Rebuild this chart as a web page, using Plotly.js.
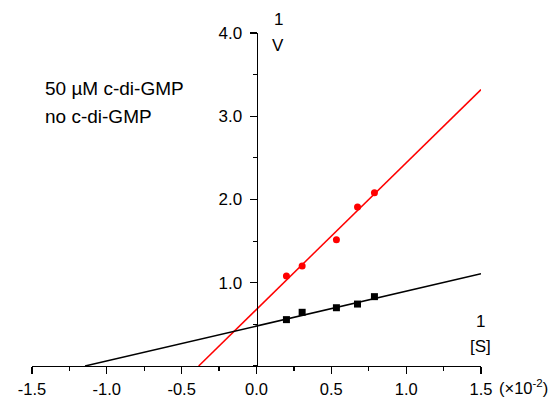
<!DOCTYPE html>
<html>
<head>
<meta charset="utf-8">
<script src="https://cdn.plot.ly/plotly-3.0.1.min.js"></script>
<style>html,body{margin:0;padding:0;background:#fff}#chart{width:554px;height:397px}</style>
</head>
<body>
<div id="chart"></div>
<script>
// Data (x in units of 1e-2)
const invS = [0.20, 0.305, 0.534, 0.675, 0.788];
const invV_cdiGMP = [1.08, 1.20, 1.517, 1.91, 2.08];
const invV_none = [0.557, 0.645, 0.70, 0.744, 0.833];
// Fitted line parameters
const fitSlope = [1.76, 0.419];
const fitIntercept = [0.68, 0.48];
const fitXmax = 1.5;
const xTickVals = [-1.5, -1.0, -0.5, 0.0, 0.5, 1.0, 1.5];
const xTickText = ["-1.5", "-1.0", "-0.5", "0.0", "0.5", "1.0", "1.5"];
const yTickVals = [1.0, 2.0, 3.0, 4.0];
const yTickText = ["1.0", "2.0", "3.0", "4.0"];
const seriesNames = ["50 µM c-di-GMP", "no c-di-GMP"];

function fitLine(i) {
  const x0 = -fitIntercept[i] / fitSlope[i];
  return {x: [x0, fitXmax], y: [0, fitIntercept[i] + fitSlope[i] * fitXmax]};
}
const redFit = fitLine(0), blackFit = fitLine(1);
const font = "Liberation Sans, Arial, sans-serif";

const traces = [
  {x: redFit.x, y: redFit.y, mode: 'lines', line: {color: '#ff0000', width: 1.5}, showlegend: false, hoverinfo: 'skip'},
  {x: blackFit.x, y: blackFit.y, mode: 'lines', line: {color: '#000000', width: 1.5}, showlegend: false, hoverinfo: 'skip'},
  {x: invS, y: invV_cdiGMP, mode: 'markers', name: seriesNames[0], marker: {color: '#ff0000', symbol: 'circle', size: 7}, showlegend: false, cliponaxis: false},
  {x: invS, y: invV_none, mode: 'markers', name: seriesNames[1], marker: {color: '#000000', symbol: 'square', size: 7}, showlegend: false, cliponaxis: false}
];

function ann(text, x, y, xanchor, size) {
  return {text: text, x: x, y: y, xref: 'paper', yref: 'paper', xanchor: xanchor, yanchor: 'middle',
          showarrow: false, font: {size: size, family: font, color: '#000'}};
}

const layout = {
  width: 554, height: 397,
  margin: {l: 32, r: 73, t: 33, b: 31, pad: 0},
  paper_bgcolor: '#fff', plot_bgcolor: '#fff',
  font: {family: font, size: 16, color: '#000'},
  showlegend: false,
  xaxis: {
    range: [-1.5, 1.5], showgrid: false, zeroline: false,
    showline: true, linecolor: '#000', linewidth: 1.2,
    ticks: 'outside', ticklen: 7, tickwidth: 1.2, tickcolor: '#000',
    tickvals: xTickVals, ticktext: xTickText,
    minor: {dtick: 0.25, tick0: 0, ticks: 'outside', ticklen: 4, tickwidth: 1.2, tickcolor: '#000', showgrid: false},
    tickfont: {size: 16.5, family: font}, ticklabelstandoff: 1, fixedrange: true
  },
  yaxis: {
    range: [0, 4.0], anchor: 'free', position: 0.5, showgrid: false, zeroline: false,
    showline: true, linecolor: '#000', linewidth: 1.2,
    ticks: 'outside', ticklen: 7, tickwidth: 1.2, tickcolor: '#000',
    tickvals: yTickVals, ticktext: yTickText,
    minor: {dtick: 0.5, tick0: 0, ticks: 'outside', ticklen: 4, tickwidth: 1.2, tickcolor: '#000', showgrid: false},
    tickfont: {size: 17, family: font}, ticklabelstandoff: 4, fixedrange: true
  },
  annotations: [
    ann(seriesNames[0], 0.0245, 0.8324, 'left', 19),
    ann(seriesNames[1], 0.0245, 0.7486, 'left', 19),
    ann("1", 0.548, 1.04, 'center', 17),
    ann("V", 0.548, 0.962, 'center', 17),
    ann("1", 0.9993, 0.133, 'center', 17),
    ann("[S]", 0.9993, 0.058, 'center', 17),
    ann("(×10<sup>-2</sup>)", 1.036, -0.062, 'left', 16.5)
  ]
};

Plotly.newPlot('chart', traces, layout, {displayModeBar: false, staticPlot: true});
</script>
</body>
</html>
